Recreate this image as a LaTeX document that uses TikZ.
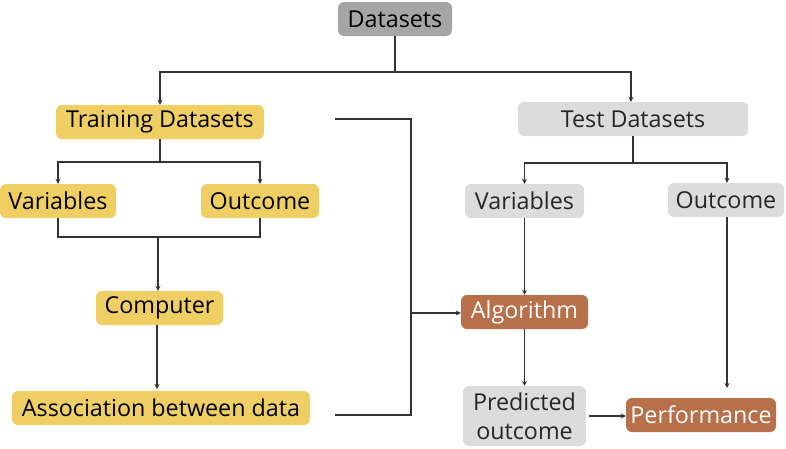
\documentclass[tikz,border=0pt]{standalone}
\usepackage{fontspec}
\setmainfont{Open Sans}
\usetikzlibrary{arrows.meta}
\definecolor{ygold}{HTML}{EFCF63}
\definecolor{lgray}{HTML}{DCDCDC}
\definecolor{dgray}{HTML}{A6A6A6}
\definecolor{rust}{HTML}{B8704A}
\definecolor{linec}{HTML}{333333}
\tikzset{
  box/.style={rectangle, rounded corners=6pt, inner sep=0pt, font=\fontsize{23.3}{27}\selectfont, text=black},
  yb/.style={box, fill=ygold},
  gb/.style={box, fill=lgray, text=black!85},
  ob/.style={box, fill=rust, text=white},
  conn/.style={draw=linec, line width=1.4pt},
  arr/.style={conn, -{Stealth[length=5pt,width=5pt]}}
}
\begin{document}
\begin{tikzpicture}[x=1pt,y=-1pt]
\useasboundingbox (0,0) rectangle (786,448);
\node[box, fill=dgray, minimum width=114pt, minimum height=34pt] (ds) at (395,19) {Datasets};
\node[yb, minimum width=208pt, minimum height=34pt] (tr) at (160,122) {Training Datasets};
\node[gb, minimum width=230pt, minimum height=34pt] (te) at (633,119) {Test Datasets};
\node[yb, minimum width=116pt, minimum height=34pt] (lv) at (58,201) {Variables};
\node[yb, minimum width=118pt, minimum height=34pt] (lo) at (260,201) {Outcome};
\node[gb, minimum width=119pt, minimum height=34pt] (rv) at (524.5,201) {Variables};
\node[gb, minimum width=116pt, minimum height=34pt] (ro) at (726,200) {Outcome};
\node[yb, minimum width=127pt, minimum height=34pt] (co) at (159.5,308) {Computer};
\node[yb, minimum width=298pt, minimum height=34pt] (as) at (161,408) {Association between data};
\node[ob, minimum width=127pt, minimum height=34pt] (al) at (524.5,312) {Algorithm};
\node[gb, minimum width=123pt, minimum height=60pt, align=center, font=\fontsize{23.3}{29}\selectfont] (pr) at (524.5,416) {Predicted\\outcome};
\node[ob, minimum width=150pt, minimum height=34pt] (pe) at (701,415) {Performance};
% coordinates
\coordinate (c1) at (395,72);
\coordinate (c2) at (160,162);
\coordinate (c3) at (158,237);
\coordinate (c4) at (633,163);
\coordinate (t1) at (335,119);
\coordinate (t2) at (411,119);
\coordinate (t3) at (411,415);
\coordinate (t4) at (335,415);
\coordinate (t5) at (411,313);
\coordinate (oe) at (727,388);
\coordinate (ca) at (157,389);
% Datasets split
\draw[conn] (ds.south) -- (c1);
\draw[arr] (c1) -| (tr.north);
\draw[arr] (c1) -| ([xshift=-2pt]te.north);
% Training split
\draw[conn] (tr.south) -- (c2);
\draw[arr] (c2) -| (lv.north);
\draw[arr] (c2) -| (lo.north);
% merge
\draw[conn] (lv.south) |- (c3) -| (lo.south);
\draw[arr] (c3) -- (c3 |- co.north);
\draw[arr] (co.south -| ca) -- (ca);
% bracket
\draw[conn] (t1) -- (t2) -- (t3) -- (t4);
\draw[arr] (t5) -- (t5 -| al.west);
% Test split
\draw[conn] (te.south) -- (c4);
\draw[arr] (c4) -| (rv.north);
\draw[arr] (c4) -| ([xshift=1pt]ro.north);
% right column
\draw[arr] (rv.south) -- (al.north);
\draw[arr] (al.south) -- (pr.north);
\draw[arr] ([xshift=1pt]ro.south) -- (oe);
\draw[arr] ([xshift=3pt]pr.east) -- (pr.east -| pe.west);
\end{tikzpicture}
\end{document}
